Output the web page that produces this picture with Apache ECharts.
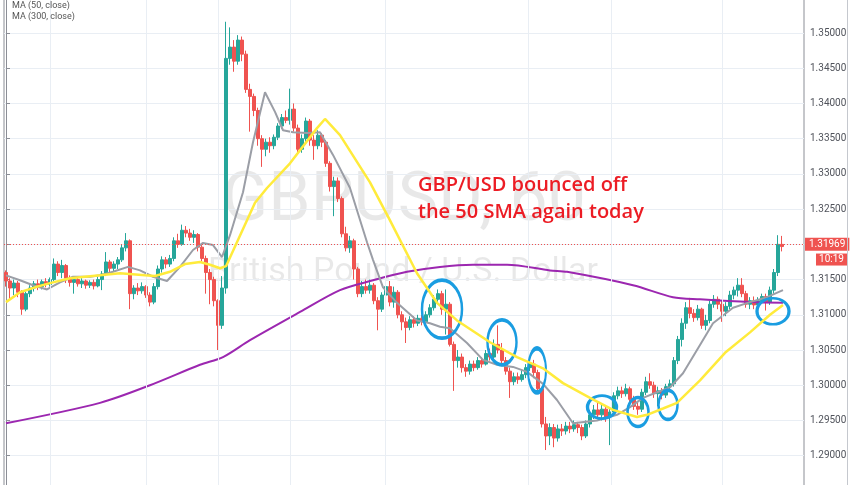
<!DOCTYPE html>
<html><head><meta charset="utf-8">
<script src="https://cdn.jsdelivr.net/npm/echarts/dist/echarts.min.js"></script>
<style>html,body{margin:0;padding:0;background:#fff}#c{width:852px;height:485px}</style>
</head><body><div id="c"></div><script>
// ---- data (GBP/USD, 60 min candles) ----
const opens = [
1.3160,1.3148,1.3138,1.3145,1.3132,1.3108,1.3130,1.3138,1.3144,1.3140,
1.3147,1.3143,1.3150,1.3172,1.3160,1.3170,1.3152,1.3146,1.3150,1.3144,
1.3148,1.3142,1.3146,1.3141,1.3150,1.3158,1.3175,1.3166,1.3172,1.3178,
1.3195,1.3205,1.3130,1.3138,1.3134,1.3140,1.3128,1.3118,1.3140,1.3165,
1.3178,1.3172,1.3180,1.3205,1.3200,1.3220,1.3216,1.3210,1.3214,1.3196,
1.3180,1.3160,1.3150,1.3120,1.3085,1.3138,1.3464,1.3480,1.3460,1.3490,
1.3470,1.3420,1.3410,1.3390,1.3350,1.3335,1.3345,1.3340,1.3352,1.3368,
1.3380,1.3376,1.3392,1.3365,1.3335,1.3350,1.3375,1.3348,1.3340,1.3355,
1.3345,1.3315,1.3282,1.3290,1.3265,1.3215,1.3195,1.3205,1.3165,1.3130,
1.3140,1.3135,1.3142,1.3120,1.3108,1.3128,1.3140,1.3118,1.3132,1.3100,
1.3090,1.3082,1.3093,1.3088,1.3095,1.3090,1.3100,1.3110,1.3122,1.3130,
1.3108,1.3115,1.3058,1.3035,1.3040,1.3025,1.3020,1.3030,1.3025,1.3035,
1.3030,1.3045,1.3040,1.3058,1.3050,1.3035,1.3020,1.3005,1.3012,1.3008,
1.3015,1.3025,1.3030,1.3018,1.2995,1.2945,1.2928,1.2940,1.2925,1.2938,
1.2935,1.2942,1.2938,1.2944,1.2940,1.2928,1.2945,1.2958,1.2965,1.2958,
1.2966,1.2955,1.2962,1.2985,1.2992,1.2988,1.2995,1.2980,1.2970,1.2966,
1.2990,1.3005,1.3000,1.2988,1.2992,1.2986,1.2998,1.3002,1.3035,1.3065,
1.3088,1.3110,1.3102,1.3096,1.3108,1.3085,1.3092,1.3115,1.3122,1.3115,
1.3105,1.3112,1.3128,1.3135,1.3142,1.3130,1.3115,1.3120,1.3114,1.3120,
1.3126,1.3118,1.3135,1.3160,1.3200];
const closes = [
1.3148,1.3138,1.3145,1.3132,1.3108,1.3130,1.3138,1.3144,1.3140,1.3147,
1.3143,1.3150,1.3172,1.3160,1.3170,1.3152,1.3146,1.3150,1.3144,1.3148,
1.3142,1.3146,1.3141,1.3150,1.3158,1.3175,1.3166,1.3172,1.3178,1.3195,
1.3205,1.3130,1.3138,1.3134,1.3140,1.3128,1.3118,1.3140,1.3165,1.3178,
1.3172,1.3180,1.3205,1.3200,1.3220,1.3216,1.3210,1.3214,1.3196,1.3180,
1.3160,1.3150,1.3120,1.3085,1.3138,1.3464,1.3480,1.3460,1.3490,1.3470,
1.3420,1.3410,1.3390,1.3350,1.3335,1.3345,1.3340,1.3352,1.3368,1.3380,
1.3376,1.3392,1.3365,1.3335,1.3350,1.3375,1.3348,1.3340,1.3355,1.3345,
1.3315,1.3282,1.3290,1.3265,1.3215,1.3195,1.3205,1.3165,1.3130,1.3140,
1.3135,1.3142,1.3120,1.3108,1.3128,1.3140,1.3118,1.3132,1.3100,1.3090,
1.3082,1.3093,1.3088,1.3095,1.3090,1.3100,1.3110,1.3122,1.3130,1.3108,
1.3115,1.3058,1.3035,1.3040,1.3025,1.3020,1.3030,1.3025,1.3035,1.3030,
1.3045,1.3040,1.3058,1.3050,1.3035,1.3020,1.3005,1.3012,1.3008,1.3015,
1.3025,1.3030,1.3018,1.2995,1.2945,1.2928,1.2940,1.2925,1.2938,1.2935,
1.2942,1.2938,1.2944,1.2940,1.2928,1.2945,1.2958,1.2965,1.2958,1.2966,
1.2955,1.2962,1.2985,1.2992,1.2988,1.2995,1.2980,1.2970,1.2966,1.2990,
1.3005,1.3000,1.2988,1.2992,1.2986,1.2998,1.3002,1.3035,1.3065,1.3088,
1.3110,1.3102,1.3096,1.3108,1.3085,1.3092,1.3115,1.3122,1.3115,1.3105,
1.3112,1.3128,1.3135,1.3142,1.3130,1.3115,1.3120,1.3114,1.3120,1.3126,
1.3118,1.3135,1.3160,1.3200,1.31969];
const lows = [
1.3140,1.3120,1.3128,1.3125,1.3100,1.3105,1.3125,1.3133,1.3135,1.3136,
1.3139,1.3140,1.3148,1.3155,1.3152,1.3145,1.3140,1.3130,1.3140,1.3138,
1.3137,1.3138,1.3136,1.3139,1.3135,1.3155,1.3160,1.3162,1.3165,1.3175,
1.3190,1.3108,1.3122,1.3128,1.3130,1.3124,1.3112,1.3115,1.3136,1.3160,
1.3166,1.3168,1.3176,1.3195,1.3198,1.3210,1.3205,1.3202,1.3190,1.3176,
1.3130,1.3115,1.3112,1.3050,1.3080,1.3130,1.3455,1.3445,1.3455,1.3460,
1.3415,1.3360,1.3382,1.3340,1.3310,1.3325,1.3330,1.3335,1.3348,1.3364,
1.3372,1.3370,1.3360,1.3328,1.3330,1.3345,1.3340,1.3320,1.3335,1.3338,
1.3310,1.3275,1.3240,1.3260,1.3210,1.3190,1.3188,1.3150,1.3125,1.3125,
1.3130,1.3130,1.3115,1.3078,1.3104,1.3120,1.3112,1.3110,1.3095,1.3078,
1.3060,1.3078,1.3082,1.3084,1.3085,1.3086,1.3096,1.3106,1.3115,1.3100,
1.3072,1.3055,1.2992,1.3025,1.3018,1.3012,1.3015,1.3020,1.3022,1.3025,
1.3028,1.3035,1.3035,1.3045,1.3030,1.3015,1.2982,1.3000,1.3002,1.3005,
1.3010,1.3020,1.3010,1.2990,1.2940,1.2908,1.2915,1.2912,1.2920,1.2928,
1.2930,1.2932,1.2934,1.2932,1.2922,1.2925,1.2940,1.2952,1.2952,1.2950,
1.2948,1.2915,1.2958,1.2980,1.2982,1.2984,1.2975,1.2965,1.2958,1.2962,
1.2986,1.2995,1.2982,1.2970,1.2980,1.2982,1.2994,1.2998,1.3030,1.3055,
1.3080,1.3095,1.3090,1.3092,1.3080,1.3078,1.3088,1.3110,1.3108,1.3090,
1.3098,1.3108,1.3122,1.3126,1.3125,1.3110,1.3108,1.3108,1.3110,1.3116,
1.3106,1.3114,1.3130,1.3155,1.3190];
const highs = [
1.3163,1.3152,1.3150,1.3148,1.3135,1.3133,1.3142,1.3148,1.3150,1.3150,
1.3152,1.3153,1.3180,1.3176,1.3178,1.3172,1.3156,1.3155,1.3154,1.3152,
1.3150,1.3149,1.3150,1.3154,1.3162,1.3189,1.3178,1.3176,1.3182,1.3200,
1.3216,1.3207,1.3142,1.3145,1.3146,1.3142,1.3132,1.3145,1.3170,1.3183,
1.3182,1.3185,1.3210,1.3215,1.3228,1.3226,1.3222,1.3220,1.3216,1.3200,
1.3184,1.3165,1.3154,1.3122,1.3155,1.3516,1.3508,1.3490,1.3497,1.3495,
1.3475,1.3428,1.3414,1.3394,1.3355,1.3350,1.3352,1.3356,1.3372,1.3385,
1.3390,1.3421,1.3400,1.3370,1.3356,1.3380,1.3378,1.3355,1.3362,1.3358,
1.3348,1.3318,1.3296,1.3295,1.3268,1.3225,1.3212,1.3208,1.3168,1.3148,
1.3150,1.3150,1.3145,1.3125,1.3132,1.3145,1.3148,1.3140,1.3135,1.3105,
1.3096,1.3098,1.3098,1.3100,1.3100,1.3105,1.3115,1.3128,1.3136,1.3134,
1.3136,1.3118,1.3062,1.3050,1.3045,1.3030,1.3035,1.3035,1.3040,1.3040,
1.3050,1.3052,1.3065,1.3085,1.3060,1.3040,1.3025,1.3018,1.3018,1.3022,
1.3030,1.3040,1.3036,1.3022,1.2998,1.2955,1.2946,1.2945,1.2944,1.2945,
1.2948,1.2948,1.2950,1.2948,1.2944,1.2950,1.2965,1.2972,1.2975,1.2972,
1.2970,1.2968,1.2990,1.2998,1.2998,1.3002,1.2998,1.2985,1.2975,1.2995,
1.3012,1.3017,1.3005,1.2998,1.2996,1.3002,1.3008,1.3040,1.3070,1.3095,
1.3118,1.3124,1.3108,1.3114,1.3110,1.3100,1.3120,1.3128,1.3126,1.3120,
1.3118,1.3134,1.3140,1.3152,1.3152,1.3134,1.3125,1.3126,1.3125,1.3130,
1.3130,1.3140,1.3165,1.3213,1.3212];
const lastPrice = 1.31969;
const lastTimeLeft = '10:19';

// moving averages: [bar index, price]
const ma20 = [[0,1.3156],[3.5,1.3149],[6.75,1.3142],[10.25,1.3136],[13.5,1.3146],[16.75,1.3154],[21,1.3154],[23.5,1.3156],[26.75,1.3161],[30.5,1.3168],[33.5,1.3163],[36.75,1.3154],[40.25,1.3148],[43.5,1.3168],[46.75,1.3192],[49.25,1.3202],[51.75,1.3199],[54,1.3182],[56,1.3213],[59.25,1.3274],[61.75,1.3345],[64.75,1.3416],[67.25,1.3388],[69.25,1.3362],[71.75,1.3359],[75.25,1.3358],[78.5,1.3359],[81.75,1.3327],[86,1.3280],[90.25,1.3203],[91.75,1.3178],[94.25,1.3139],[97.75,1.3117],[102.75,1.3092],[106,1.3088],[108.5,1.3083],[111,1.3081],[115.25,1.3060],[119.25,1.3036],[122.75,1.3029],[126.75,1.3026],[130.25,1.3019],[134.25,1.3002],[137.75,1.2979],[141.75,1.2946],[147.75,1.2950],[152.75,1.2958],[156,1.2969],[159.25,1.2982],[162.75,1.2990],[166,1.2997],[169.25,1.3017],[173.5,1.3057],[176.75,1.3088],[181.75,1.3110],[186,1.3118],[190.25,1.3125],[194.25,1.3135]];
const ma50 = [[0,1.3118],[3.5,1.3132],[7.25,1.3139],[11,1.3145],[16,1.3152],[23.5,1.3156],[28.5,1.3159],[34.75,1.3156],[37.25,1.3155],[41,1.3161],[44.75,1.3172],[48.5,1.3175],[51,1.3171],[53.5,1.3166],[55,1.3169],[62.25,1.3259],[65.25,1.3280],[71,1.3315],[77.75,1.3365],[79.75,1.3378],[83.5,1.3355],[91,1.3288],[96,1.3234],[102.75,1.3159],[107.75,1.3117],[112.75,1.3092],[121,1.3061],[127.75,1.3040],[134.25,1.3024],[139.25,1.3003],[146,1.2982],[151.75,1.2965],[157.75,1.2955],[160.25,1.2958],[164.25,1.2967],[167.75,1.2975],[173.5,1.3007],[179.75,1.3046],[186,1.3075],[191,1.3100],[194.25,1.3114]];
const ma300 = [[0,1.2946],[23.5,1.2975],[36,1.3000],[48.5,1.3029],[54.25,1.3040],[61,1.3064],[73.5,1.3104],[83.5,1.3135],[91.75,1.3149],[100.25,1.3161],[108.5,1.3168],[116.75,1.3171],[125.25,1.3171],[136,1.3163],[140.25,1.3161],[156.75,1.3142],[166.75,1.3125],[173.5,1.3122],[186,1.3118],[194.25,1.3117]];

// session separators (bar index) and circled bounces [bar index, price]
const daySeparators = [11, 35, 53, 71, 94.75, 130.5, 151.25, 179];
const bounces = [[109,1.3108],[124,1.3061],[132.75,1.3021],[149,1.2969],[158,1.2962],[165.5,1.2972],[191.75,1.3105]];
const yTicks = {min: 1.285, max: 1.355, step: 0.005};
const slotCount = 200;

// ---- styles ----
const bounceSizes = [[40,58],[29,45],[18,44],[29,23],[21,29],[19,29],[32,26]];
const slots = Array.from({length: slotCount}, (_, i) => String(i));
const candles = opens.map((o, i) => [o, closes[i], lows[i], highs[i]]);

const chart = echarts.init(document.getElementById('c'));
chart.setOption({
  animation: false,
  backgroundColor: '#ffffff',
  grid: {left: 4, right: 48, top: -2.2, bottom: -5.9, outerBoundsMode: 'none', containLabel: false,
    show: true, borderColor: '#8b8e96', borderWidth: 1, backgroundColor: 'rgba(0,0,0,0)'},
  xAxis: [
    {type: 'category', data: slots, show: false, boundaryGap: true},
    {type: 'value', min: -0.5, max: slotCount - 0.5, show: false}
  ],
  yAxis: {
    type: 'value', position: 'right', min: yTicks.min, max: yTicks.max, interval: yTicks.step,
    axisLine: {show: true, lineStyle: {color: '#8b8e96'}},
    axisTick: {show: true, length: 4, lineStyle: {color: '#8b8e96'}},
    axisLabel: {color: '#50535b', fontSize: 10, fontFamily: 'Roboto', margin: 6, formatter: v => v.toFixed(5)},
    splitLine: {show: true, lineStyle: {color: '#e9eef4', width: 1}}
  },
  series: [
    {type: 'line', xAxisIndex: 1, data: [], z: 1, silent: true,
     markLine: {silent: true, symbol: 'none', animation: false, label: {show: false},
       lineStyle: {color: '#e9eef4', type: 'solid', width: 1},
       data: daySeparators.map(x => ({xAxis: x}))}},
    {type: 'candlestick', data: candles, barWidth: 3, z: 2,
     itemStyle: {color: '#26a69a', color0: '#ef5350', borderColor: '#26a69a', borderColor0: '#ef5350', borderWidth: 1},
     markLine: {silent: true, symbol: 'none', animation: false,
       lineStyle: {color: '#ef5350', type: [1, 2], width: 1},
       label: {show: true, position: 'end', distance: 1, formatter: lastPrice.toFixed(5), color: '#fff',
         backgroundColor: '#ef5350', padding: [2, 4, 1, 4], fontSize: 10, fontFamily: 'Roboto'},
       data: [{yAxis: lastPrice}]}},
    {type: 'line', xAxisIndex: 1, data: ma300, showSymbol: false, smooth: 0.3, z: 3,
     lineStyle: {color: '#9c27b0', width: 2}},
    {type: 'line', xAxisIndex: 1, data: ma20, showSymbol: false, z: 4,
     lineStyle: {color: '#9b9ea6', width: 2}},
    {type: 'line', xAxisIndex: 1, data: ma50, showSymbol: false, z: 5,
     lineStyle: {color: '#ffeb3b', width: 2.5},
     markPoint: {symbol: 'circle', silent: true, label: {show: false},
       itemStyle: {color: 'rgba(0,0,0,0)', borderColor: '#1a9de1', borderWidth: 3},
       data: bounces.map((b, i) => ({coord: b, symbolSize: bounceSizes[i]}))}}
  ]
});

const py = chart.convertToPixel({yAxisIndex: 0}, lastPrice);
chart.setOption({
  graphic: [
    {type: 'text', z: -1, silent: true, style: {text: 'GBPUSD, 60', x: 404, y: 203, align: 'center', verticalAlign: 'middle',
      font: '68px Roboto', fill: 'rgba(0,0,0,0.09)'}},
    {type: 'text', z: -1, silent: true, style: {text: 'British Pound / U.S. Dollar', x: 403, y: 272, align: 'center', verticalAlign: 'middle',
      font: '34px Roboto', fill: 'rgba(0,0,0,0.09)'}},
    {type: 'text', z: 100, silent: true, style: {text: 'GBP/USD bounced off', x: 418, y: 185, align: 'left', verticalAlign: 'middle',
      font: '600 20px "Open Sans"', fill: '#ec1c24'}},
    {type: 'text', z: 100, silent: true, style: {text: 'the 50 SMA again today', x: 418, y: 212, align: 'left', verticalAlign: 'middle',
      font: '600 20px "Open Sans"', fill: '#ec1c24'}},
    {type: 'text', z: 100, silent: true, style: {text: 'MA (50, close)', x: 12, y: 5.5, verticalAlign: 'middle', font: '9px Roboto', fill: '#555'}},
    {type: 'text', z: 100, silent: true, style: {text: 'MA (300, close)', x: 12, y: 17, verticalAlign: 'middle', font: '9px Roboto', fill: '#555'}},
    {type: 'rect', z: 100, silent: true, shape: {x: 816, y: py + 7, width: 31, height: 12}, style: {fill: '#ef5350'}},
    {type: 'text', z: 101, silent: true, style: {text: lastTimeLeft, x: 831.5, y: py + 13, align: 'center', verticalAlign: 'middle',
      font: '10px Roboto', fill: '#fff'}},
    {type: 'line', z: 100, silent: true, shape: {x1: 847.5, y1: 0, x2: 847.5, y2: 485}, style: {stroke: '#c5c8ce', lineWidth: 1}}
  ]
});
</script></body></html>
